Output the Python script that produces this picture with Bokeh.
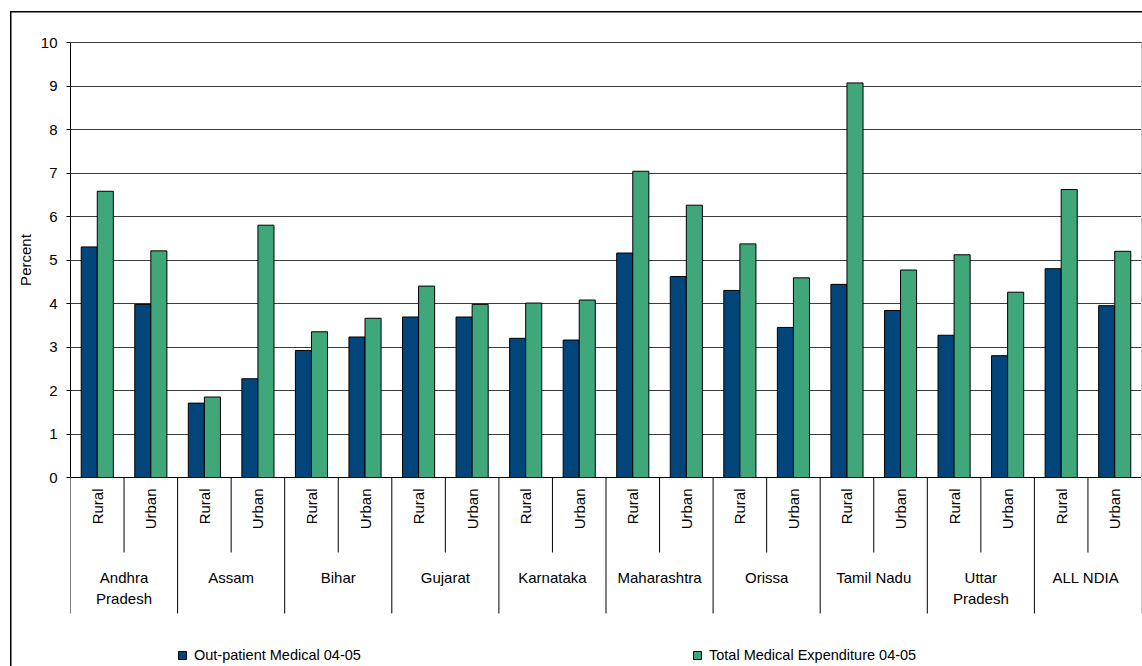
import numpy as np
from bokeh.plotting import figure
from bokeh.models import (ColumnDataSource, Range1d, FixedTicker, Legend,
                          LegendItem, Title)
from bokeh.core.properties import value
from bokeh.embed import file_html
from bokeh.resources import INLINE

# ---- data -----------------------------------------------------------------
states = ["Andhra\nPradesh", "Assam", "Bihar", "Gujarat", "Karnataka",
          "Maharashtra", "Orissa", "Tamil Nadu", "Uttar\nPradesh", "ALL  NDIA"]
areas = ["Rural", "Urban"]
outpatient = [5.30, 3.98, 1.71, 2.27, 2.92, 3.23, 3.69, 3.69, 3.20, 3.16,
              5.16, 4.62, 4.30, 3.45, 4.44, 3.84, 3.27, 2.80, 4.80, 3.95]
total = [6.58, 5.21, 1.85, 5.80, 3.35, 3.66, 4.40, 3.98, 4.01, 4.08,
         7.04, 6.26, 5.37, 4.59, 9.07, 4.77, 5.12, 4.26, 6.62, 5.20]
y_ticks = list(range(0, 11))
y_title = "Percent"
series_names = ["Out-patient Medical 04-05", "Total Medical Expenditure 04-05"]

# ---- styling / layout constants -------------------------------------------
FONT = "Liberation Sans"
FONT_PX = 15
TEXT_SIZE = f"{FONT_PX}px"
BLUE = "#02457B"
GREEN = "#3FA77A"
GRID = "#3c3c3c"

W, H = 1142, 666
LEFT, TOP = 70, 40
UNIT = 43.5          # pixels per percentage point
ZERO_PX = 477        # canvas row of the zero line
BAR_W = 0.3

n_cat = len(states) * len(areas)
x_end = n_cat * (W - LEFT) / (W - LEFT - 1)
y_start = -(H - ZERO_PX) / UNIT
y_end = 10 + (ZERO_PX - 10 * UNIT - TOP) / UNIT

def px_below(px):
    """Data value of a canvas row below the zero line."""
    return -(px - ZERO_PX) / UNIT

inner_depth = px_below(552)
outer_depth = px_below(613)

# chart border (left and top edges) painted behind a transparent canvas border
chart_border = {
    "background-color": "white",
    "background-image": "linear-gradient(#000, #000), linear-gradient(#000, #000)",
    "background-size": "1.5px 100%, 100% 1.5px",
    "background-position": "10px 11px, 10px 11px",
    "background-repeat": "no-repeat",
}

p = figure(width=W, height=H,
           x_range=Range1d(0, x_end), y_range=Range1d(y_start, y_end),
           x_axis_location=None, toolbar_location=None, output_backend="svg",
           min_border_left=LEFT, min_border_top=TOP,
           min_border_right=0, min_border_bottom=0,
           outline_line_color=None,
           background_fill_color="white", border_fill_color=None,
           styles=chart_border)

# grid
p.xgrid.visible = False
p.ygrid.ticker = FixedTicker(ticks=y_ticks)
p.ygrid.grid_line_color = GRID
p.ygrid.grid_line_width = 1

# y axis
yax = p.yaxis[0]
yax.ticker = FixedTicker(ticks=y_ticks)
yax.bounds = (0, 10)
yax.axis_line_color = "black"
yax.major_tick_in = 0
yax.major_tick_out = 4
yax.major_tick_line_color = "black"
yax.minor_tick_line_color = None
yax.major_label_standoff = 9
yax.major_label_text_font = FONT
yax.major_label_text_font_size = TEXT_SIZE
yax.major_label_text_color = "black"

# y axis title, centred on the 0-10 value span rather than the whole frame;
# with align="left" the offset is measured up from the frame bottom to the
# start of the rotated text
span_mid_px = ZERO_PX - 5 * UNIT
half_title_px = 0.5 * 3.45 * FONT_PX
p.add_layout(Title(text=y_title, align="left",
                   offset=(H - span_mid_px) - half_title_px, standoff=7,
                   text_font=FONT, text_font_size=TEXT_SIZE,
                   text_font_style="normal", text_color="black"), "left")

# bars
centers = np.arange(n_cat) + 0.5
src = ColumnDataSource(dict(
    x_op=centers - BAR_W / 2, x_tot=centers + BAR_W / 2,
    op=outpatient, tot=total))
r_op = p.vbar(x="x_op", top="op", bottom=0, width=BAR_W, source=src,
              fill_color=BLUE, line_color="black", line_width=1)
r_tot = p.vbar(x="x_tot", top="tot", bottom=0, width=BAR_W, source=src,
               fill_color=GREEN, line_color="black", line_width=1)

# category axis: baseline and separators
p.segment(x0=[0], y0=[0], x1=[n_cat], y1=[0], line_color="black", line_width=1)
inner_x = list(range(1, n_cat, 2))
outer_x = list(range(0, n_cat, 2))
p.segment(x0=inner_x, y0=[0] * len(inner_x), x1=inner_x,
          y1=[inner_depth] * len(inner_x), line_color="black", line_width=1)
p.segment(x0=outer_x, y0=[0] * len(outer_x), x1=outer_x,
          y1=[outer_depth] * len(outer_x), line_color="black", line_width=1)
p.segment(x0=[n_cat], y0=[outer_depth], x1=[n_cat], y1=[10],
          line_color="#c8c8c8", line_width=1)

# sub-category labels
sub_labels = [a for _ in states for a in areas]
p.text(x=list(centers), y=[px_below(488)] * n_cat, text=sub_labels,
       angle=np.pi / 2, text_align="right", text_baseline="middle",
       text_font=value(FONT), text_font_size=TEXT_SIZE, text_color="black")

# state labels (one row per text line)
lx, ly, lt = [], [], []
for i, name in enumerate(states):
    for k, line in enumerate(name.split("\n")):
        lx.append(2 * i + 1)
        ly.append(px_below(577 + 21 * k))
        lt.append(line)
p.text(x=lx, y=ly, text=lt, text_align="center", text_baseline="middle",
       text_font=value(FONT), text_font_size=TEXT_SIZE, text_color="black")

# legend, two separately placed entries
def make_legend(label, renderer, x_px):
    return Legend(items=[LegendItem(label=label, renderers=[renderer])],
                  location=(x_px - LEFT, 3), orientation="horizontal",
                  glyph_width=10, glyph_height=10, label_standoff=7,
                  label_height=10, padding=0, margin=0, spacing=0,
                  border_line_color=None, background_fill_alpha=0,
                  label_text_font=FONT, label_text_font_size="14.5px",
                  label_text_color="black")

p.add_layout(make_legend(series_names[0], r_op, 177))
p.add_layout(make_legend(series_names[1], r_tot, 692))

open("out.html", "w").write(file_html(p, INLINE))
